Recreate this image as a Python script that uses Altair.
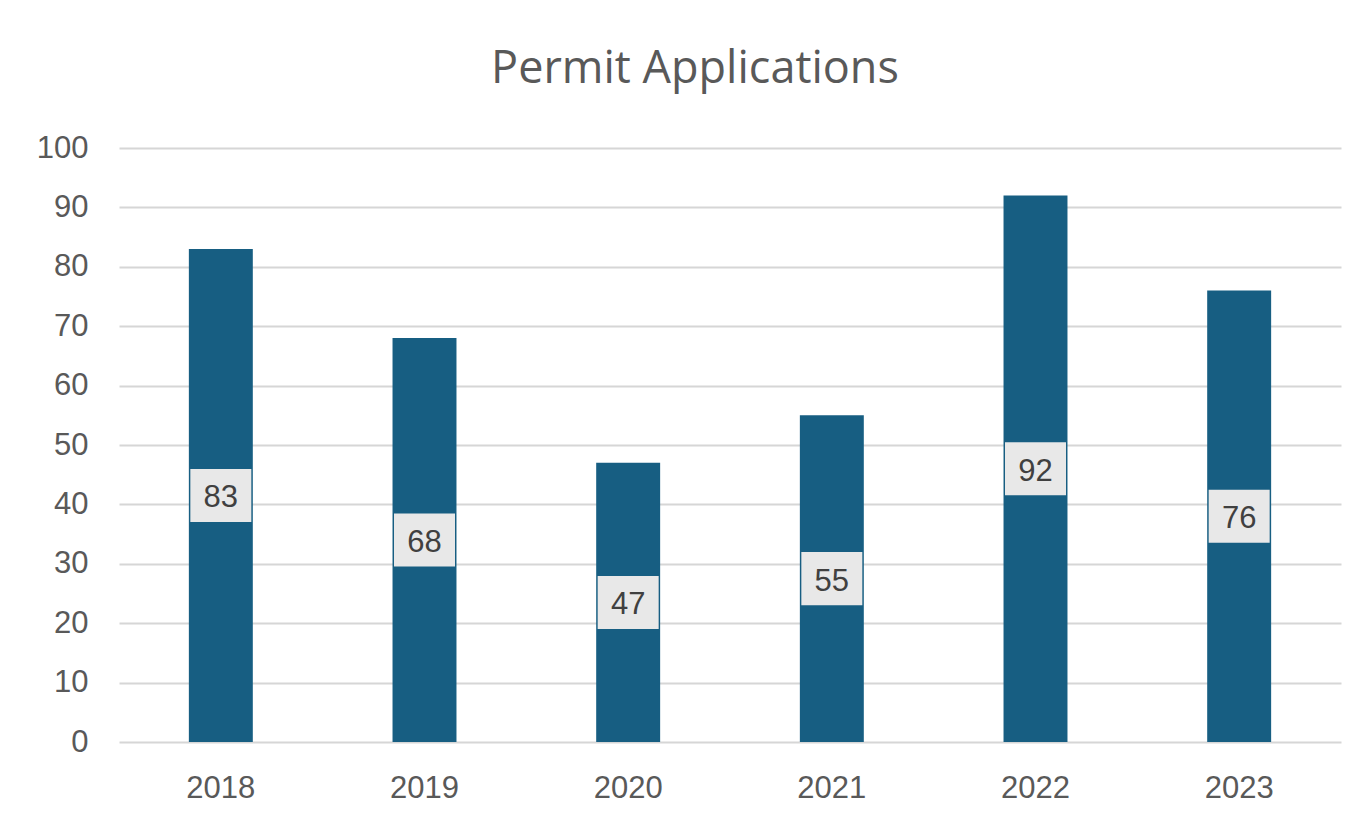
import altair as alt
import pandas as pd

years = ["2018", "2019", "2020", "2021", "2022", "2023"]
values = [83, 68, 47, 55, 92, 76]
y_ticks = [0, 10, 20, 30, 40, 50, 60, 70, 80, 90, 100]

df = pd.DataFrame({"year": years, "value": values})

LABEL_FONT = "Liberation Sans"
GREY = "#595959"

base = alt.Chart(df).encode(
    x=alt.X(
        "year:N",
        sort=years,
        scale=alt.Scale(paddingInner=0.686, paddingOuter=0.343),
        axis=alt.Axis(
            title=None, labelAngle=0, domain=False, ticks=False, grid=False,
            labelPadding=31, labelFontSize=31, labelFont=LABEL_FONT,
            labelColor=GREY,
        ),
    )
)

bars = base.mark_bar(color="#175E82").encode(
    y=alt.Y(
        "value:Q",
        scale=alt.Scale(domain=[0, 100]),
        axis=alt.Axis(
            title=None, values=y_ticks, domain=False, ticks=False, grid=True,
            gridColor="#D6D6D6", gridWidth=2, labelPadding=31,
            labelFontSize=31, labelFont=LABEL_FONT, labelColor=GREY,
        ),
    )
)

mid = base.transform_calculate(mid="datum.value / 2")

boxes = mid.mark_point(
    shape="M-1,-0.87H1V0.87H-1Z", size=3721, filled=True,
    color="#E8E8E8", opacity=1,
).encode(y="mid:Q")

labels = mid.mark_text(
    font=LABEL_FONT, fontSize=31, color="#404040", baseline="middle", dy=3
).encode(y="mid:Q", text="value:Q")

chart = (
    alt.layer(bars, boxes, labels)
    .properties(
        width=1222,
        height=594,
        title=alt.TitleParams(
            "Permit Applications", fontSize=45, font="Open Sans",
            color=GREY, fontWeight="normal", baseline="alphabetic",
            offset=4, dx=-35, anchor="middle",
        ),
        autosize=alt.AutoSizeParams(type="none"),
        padding={"left": 111, "top": 140, "right": 16, "bottom": 80},
        background="white",
    )
    .configure_view(stroke=None)
)

chart.save("out.html", embed_options={"renderer": "svg", "actions": False})
